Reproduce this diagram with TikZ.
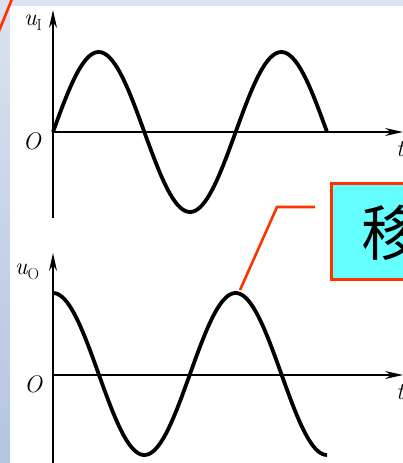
\documentclass[tikz,border=0pt]{standalone}
\usepackage{fontspec}
\newfontfamily\cjk{Noto Sans CJK SC}
\usetikzlibrary{arrows.meta,calc}
\definecolor{bgblue}{HTML}{DCE2EE}
\definecolor{stripblue}{HTML}{B4C4E2}
\definecolor{redline}{HTML}{FF3300}
\definecolor{cyanfill}{HTML}{66FFFF}
\newcommand{\subI}[1]{\raisebox{-0.22em}{\upshape\fontsize{16}{16}\selectfont #1}}
\begin{document}
\begin{tikzpicture}[x=1pt,y=-1pt,
  axis/.style={line width=1.9pt,-{Stealth[length=18pt,width=8pt]}},
  wave/.style={line width=3.8pt,line join=round},
  lbl/.style={inner sep=0pt,font=\fontsize{24}{24}\selectfont\itshape},
  leader/.style={draw=redline,line width=2.6pt},
  callout/.style={draw=redline,fill=cyanfill,line width=3pt,anchor=north west,minimum width=100pt,minimum height=96pt,inner sep=0pt}]
\useasboundingbox (0,0) rectangle (403,463);
% background
\fill[bgblue] (0,0) rectangle (403,463);
\shade[top color=bgblue,bottom color=stripblue] (0,0) rectangle (10,463);
\fill[white] (10,6) rectangle (403,463);
% red stroke top-left
\draw[leader] (-1,31) -- (12,-1);
% top plot
\coordinate (o1) at (53,132);
\coordinate (y1b) at (53,218);
\coordinate (y1t) at (53,10);
\coordinate (x1e) at (403,132);
\draw[axis] (y1b) -- (y1t);
\draw[axis] (o1) -- (x1e);
\draw[wave] plot[domain=53:327,samples=120] (\x,{132-80*sin(((\x-53)/182.67)*360)});
\node[lbl] (O1) at (32,141) {O};
\node[lbl] (uI) at (33,23) {u\subI{I}};
\node[lbl,anchor=west] (t1) at (396,149) {t};
% bottom plot
\coordinate (o2) at (53,375);
\coordinate (y2b) at (53,470);
\coordinate (y2t) at (53,253);
\coordinate (x2e) at (403,375);
\draw[axis] (y2b) -- (y2t);
\draw[axis] (o2) -- (x2e);
\draw[wave] plot[domain=53:327,samples=120] (\x,{374-81*cos(((\x-53)/182.67)*360)});
\node[lbl] (O2) at (33,384) {O};
\node[lbl] (uO) at (27,272) {u\subI{O}};
\node[lbl,anchor=west] (t2) at (396,392) {t};
% callout
\node[callout] (box) at (330,182) {};
\node[anchor=west,inner sep=0pt,font=\cjk\fontsize{60}{60}\selectfont] (txt) at (361,233) {移};
\coordinate (tip) at (240,290);
\coordinate (bend) at (277,207);
\coordinate (lend) at (315,207);
\draw[leader] (tip) -- (bend) -- (lend);
\end{tikzpicture}
\end{document}
